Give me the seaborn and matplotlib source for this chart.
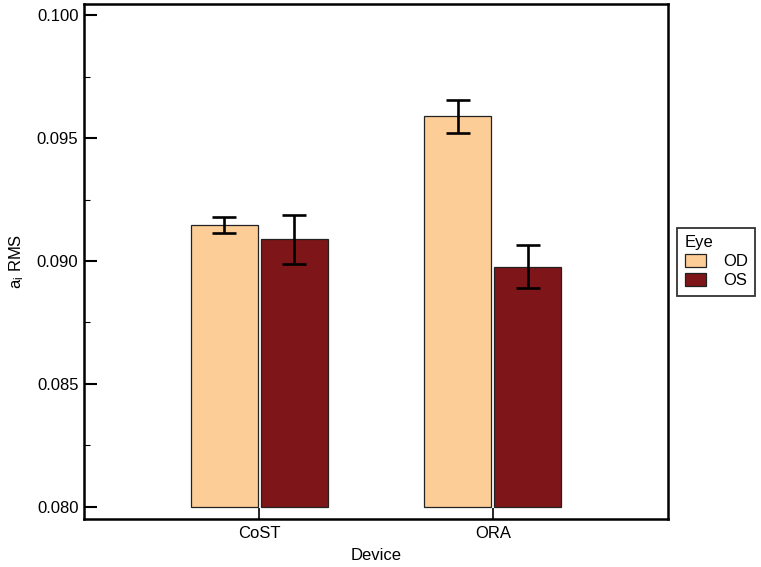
import matplotlib
matplotlib.use("Agg")
import matplotlib.pyplot as plt
import seaborn as sns
import pandas as pd
import numpy as np

devices = ["CoST", "CoST", "ORA", "ORA"]
eyes = ["OD", "OS", "OD", "OS"]
means = [0.09147, 0.09089, 0.09588, 0.08977]
errs = [0.00033, 0.00100, 0.00068, 0.00088]
yticks = [0.080, 0.085, 0.090, 0.095, 0.100]
base = 0.080

colors = {"OD": "#FDCD98", "OS": "#7E1519"}

sns.set_theme(style="white")
plt.rcParams["font.family"] = ["Liberation Sans", "DejaVu Sans"]
plt.rcParams["mathtext.fontset"] = "custom"
plt.rcParams["mathtext.rm"] = "Liberation Sans"
plt.rcParams["mathtext.it"] = "Liberation Sans"

FS = 12

df = pd.DataFrame({"Device": devices, "Eye": eyes, "value": means, "err": errs})

fig = plt.figure(figsize=(7.61, 5.67), dpi=100)
ax = fig.add_axes([84/761, 1 - 519/567, (668-84)/761, (519-4)/567])

sns.barplot(data=df, x="Device", y="value", hue="Eye", palette=colors,
            errorbar=None, width=0.6, gap=0.04, edgecolor="#222222",
            linewidth=0.9, ax=ax, saturation=1)

# re-base bars to start at 0.080 and add error bars
for p in ax.patches:
    h = p.get_height()
    if h == 0 or np.isnan(h):
        continue
    p.set_y(base)
    p.set_height(h - base)

bars = [p for p in ax.patches if p.get_width() > 0 and p.get_height() > 0]
xs, ys, es = [], [], []
for p in bars:
    cx = p.get_x() + p.get_width() / 2
    top = p.get_y() + p.get_height()
    idx = int(np.argmin([abs(m - top) for m in means]))
    xs.append(cx); ys.append(means[idx]); es.append(errs[idx])
ax.errorbar(xs, ys, yerr=es, fmt="none", ecolor="black", elinewidth=1.9,
            capsize=8.9, capthick=1.9, zorder=5)

ax.set_xlim(-0.75, 1.75)
ax.set_ylim(0.07951, 0.10045)
ax.set_yticks(yticks)
ax.set_yticklabels([f"{t:.3f}" for t in yticks])
ax.set_yticks([0.0825, 0.0875, 0.0925, 0.0975], minor=True)

for s in ax.spines.values():
    s.set_linewidth(1.8)
    s.set_color("black")

ax.tick_params(axis="y", which="major", direction="in", length=9, width=1.5,
               labelsize=FS, colors="black", left=True, pad=4)
ax.tick_params(axis="y", which="minor", direction="in", length=4.5, width=0.8,
               colors="black", left=True)
ax.tick_params(axis="x", which="major", direction="in", length=8, width=1.2,
               labelsize=FS, colors="black", bottom=True, pad=5)

ax.set_xlabel("Device", fontsize=FS, labelpad=5, color="black")
ax.set_ylabel(r"a$_\mathregular{i}$ RMS", fontsize=FS, labelpad=8, color="black")

leg = ax.legend(title="Eye", loc="upper left",
                bbox_to_anchor=(677/761, 1 - 228/567),
                bbox_transform=fig.transFigure, frameon=True, fancybox=False,
                fontsize=FS, title_fontsize=FS, borderpad=0.45,
                handlelength=1.3, handleheight=0.85, handletextpad=1.0,
                labelspacing=0.2, borderaxespad=0)
leg._legend_box.align = "left"
leg.get_title().set_color("black")
for t in leg.get_texts():
    t.set_color("black")
leg.get_frame().set_edgecolor("black")
leg.get_frame().set_linewidth(1.3)
for h in leg.legend_handles:
    h.set_edgecolor("#222222")
    h.set_linewidth(0.9)

fig.savefig("out.png", dpi=100)
